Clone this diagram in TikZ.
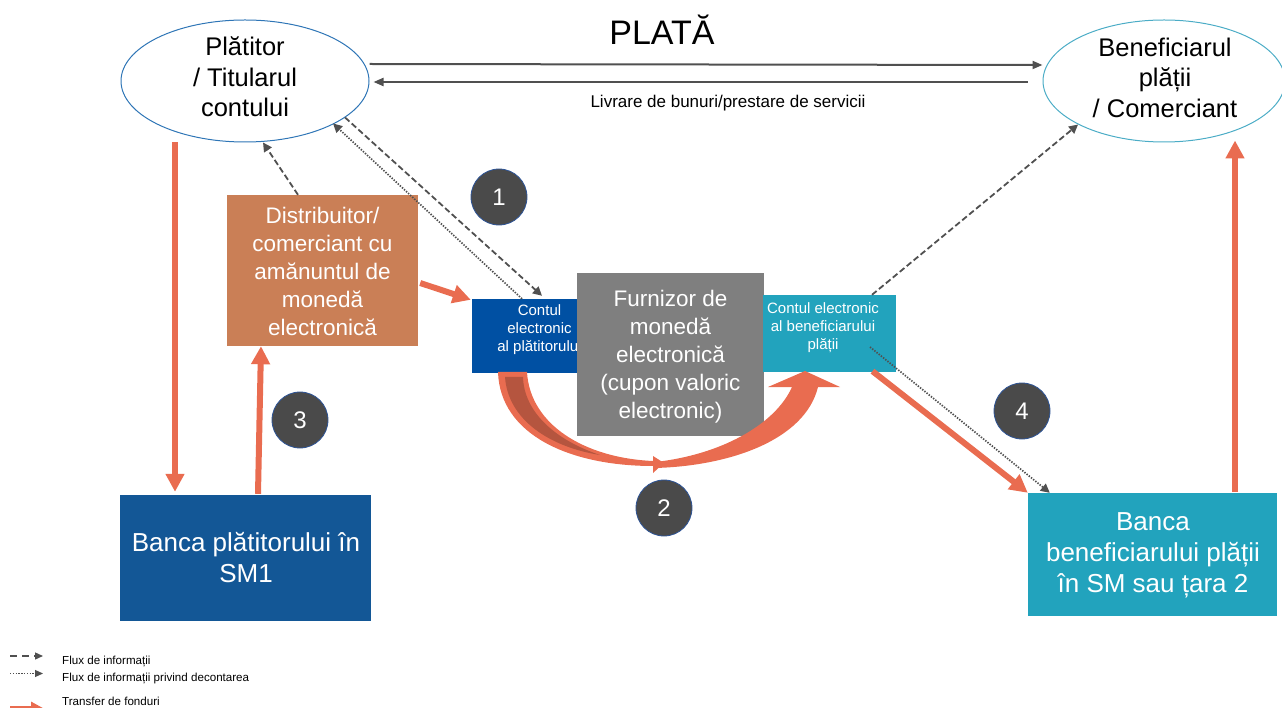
\documentclass[tikz,border=0pt]{standalone}
\usepackage{fontspec}
\setmainfont{Liberation Sans}
\usetikzlibrary{arrows.meta,shapes.geometric}
\definecolor{payerblue}{HTML}{2E75B6}
\definecolor{payeeteal}{HTML}{4BACC6}
\definecolor{distrorange}{HTML}{CA7F56}
\definecolor{acctblue}{HTML}{0050A3}
\definecolor{furngray}{HTML}{7F7F7F}
\definecolor{acctteal}{HTML}{22A3BD}
\definecolor{bankblue}{HTML}{135796}
\definecolor{fundred}{HTML}{E96C50}
\definecolor{funddark}{HTML}{B5553F}
\definecolor{infogray}{HTML}{505050}
\definecolor{stepgray}{HTML}{4A4A4A}
\definecolor{stepedge}{HTML}{2F5597}

\begin{document}
\begin{tikzpicture}[x=1pt,y=-1pt,
  party/.style={ellipse, draw, line width=1pt, inner sep=0pt,
    minimum width=#1, minimum height=122pt},
  partytext/.style={align=center, inner sep=0pt, font=\fontsize{25.5}{30.5}\selectfont},
  panel/.style={rectangle, inner sep=0pt, minimum width=#1},
  bigtext/.style={align=center, inner sep=0pt, text=white, font=\fontsize{22.5}{28}\selectfont},
  banktext/.style={align=center, inner sep=0pt, text=white, font=\fontsize{26}{31}\selectfont},
  accttext/.style={align=center, inner sep=0pt, text=white, font=\fontsize{15}{18.2}\selectfont},
  stepmark/.style={circle, fill=stepgray, draw=stepedge, line width=0.8pt,
    minimum size=56pt, inner sep=0pt, text=white, font=\fontsize{24}{28}\selectfont},
  fund/.style={draw=fundred, line width=6pt, -{Triangle[width=18pt,length=18pt]}},
  info/.style={draw=infogray, line width=1.8pt, dash pattern=on 6pt off 3pt,
    -{Triangle[width=9pt,length=9pt]}},
  settle/.style={draw=infogray, line width=1.7pt, dash pattern=on 1.4pt off 1.4pt,
    -{Triangle[width=9pt,length=9pt]}},
  goods/.style={draw=infogray, line width=2pt, -{Triangle[width=8pt,length=10pt]}},
  legendtext/.style={anchor=base west, inner sep=0pt, font=\fontsize{11.6}{14}\selectfont}
]
\useasboundingbox (0,0) rectangle (1282,708);

% parties
\node[party=248pt, draw=payerblue] (payer) at (245,81) {};
\node[partytext] (payer-t) at (245,77) {Plătitor\\/ Titularul\\contului};
\node[party=242pt, draw=payeeteal] (payee) at (1164,81) {};
\node[partytext] (payee-t) at (1165,77.5) {Beneficiarul\\plății\\/ Comerciant};

\node[anchor=base, inner sep=0pt, font=\fontsize{34}{40}\selectfont] (title) at (662,45) {PLATĂ};

% goods and payment between the parties
\draw[goods] ([yshift=17pt]payer.east) -- ([yshift=16pt]payee.west);
\draw[goods] ([xshift=-15pt,yshift=-1pt]payee.west) -- ([xshift=4pt,yshift=-1pt]payer.east);
\node[anchor=base, inner sep=0pt, font=\fontsize{17}{20}\selectfont] (goods-t) at (728,108)
  {Livrare de bunuri/prestare de servicii};

% boxes
\node[panel=191pt, minimum height=151pt, fill=distrorange] (distr) at (322.5,270.5) {};
\node[bigtext] (distr-t) at (322.5,271) {Distribuitor/\\comerciant cu\\amănuntul de\\monedă\\electronică};

\node[panel=130pt, minimum height=74pt, fill=acctblue] (pacct) at (537,336) {};
\node[accttext] (pacct-t) at (539.5,329.5) {Contul\\electronic\\al plătitorului};

\node[panel=187pt, minimum height=163pt, fill=furngray] (furn) at (670.5,354.5) {};
\node[bigtext] (furn-t) at (670.5,356.5) {Furnizor de\\monedă\\electronică\\(cupon valoric\\electronic)};

\node[panel=133pt, minimum height=77pt, fill=acctteal] (bacct) at (829.5,333.5) {};
\node[accttext] (bacct-t) at (823,327.4) {Contul electronic\\al beneficiarului\\plății};

\node[panel=251pt, minimum height=126pt, fill=bankblue] (bank1) at (245.5,558) {};
\node[banktext] (bank1-t) at (246,558) {Banca plătitorului în\\SM1};

\node[panel=249pt, minimum height=123pt, fill=acctteal] (bank2) at (1152.5,554.5) {};
\node[banktext] (bank2-t) at (1153,555.5) {Banca\\beneficiarului plății\\în SM sau țara 2};

% transfer of funds through the e-money issuer
\fill[fundred] (655,468) .. controls (730,466) and (805,440) .. (818,387)
  -- (840,387) -- (805,371) -- (768,387) -- (792,387)
  .. controls (775,425) and (720,455) .. (655,462) -- cycle;
\fill[fundred] (498,372) .. controls (500,435) and (570,466) .. (653,466)
  -- (653,473) -- (664,463) -- (653,456) -- (653,461)
  .. controls (585,458) and (530,425) .. (527,372) -- cycle;
\fill[funddark] (505,377) .. controls (508,420) and (550,447) .. (600,455)
  .. controls (555,440) and (524,412) .. (523,377) -- cycle;

% other transfers of funds
\draw[fund] ([xshift=-70pt]payer.south) -- ([xshift=-70.5pt,yshift=3pt]bank1.north);
\draw[fund] ([xshift=12.5pt,yshift=1pt]bank1.north) -- ([xshift=-61.5pt]distr.south);
\draw[fund] ([xshift=2pt,yshift=-12.5pt]distr.east) -- ([xshift=-1pt,yshift=-1pt]pacct.north west);
\draw[fund] ([xshift=43pt,yshift=1pt]bacct.south) -- (bank2.north west);
\draw[fund] ([xshift=82.5pt,yshift=1pt]bank2.north) -- ([xshift=71pt,yshift=2pt]payee.south);

% information flows
\draw[info] ([xshift=-24.5pt]distr.north) -- ([xshift=18pt]payer.south);
\draw[info] ([xshift=12pt,yshift=7pt]payer.south east) -- ([xshift=5pt,yshift=3pt]pacct.north);
\draw[settle] ([xshift=-15pt]pacct.north) -- ([yshift=1pt]payer.south east);
\draw[info] ([xshift=42.5pt]bacct.north) -- (payee.south west);
\draw[settle] ([xshift=40.5pt,yshift=-13.5pt]bacct.center) -- ([xshift=22pt]bank2.north west);

% step numbers
\node[stepmark] (s1) at (499,197) {1};
\node[stepmark] (s2) at (664,508) {2};
\node[stepmark] (s3) at (300,420) {3};
\node[stepmark] (s4) at (1022,411) {4};

% legend
\coordinate (la1) at (10,656);  \coordinate (lb1) at (43,656);
\coordinate (la2) at (10,673.5);\coordinate (lb2) at (43,673.5);
\coordinate (la3) at (10,708);  \coordinate (lb3) at (43,708);
\draw[info, line width=1.4pt, dash pattern=on 7pt off 5pt, -{Triangle[width=7pt,length=8pt]}] (la1) -- (lb1);
\draw[settle, line width=1.2pt, -{Triangle[width=7pt,length=8pt]}] (la2) -- (lb2);
\draw[fund, line width=4pt, -{Triangle[width=12pt,length=12pt]}] (la3) -- (lb3);
\node[legendtext] (leg1) at (62,664) {Flux de informații};
\node[legendtext] (leg2) at (62,681) {Flux de informații privind decontarea};
\node[legendtext] (leg3) at (62,705.5) {Transfer de fonduri};
\end{tikzpicture}
\end{document}
